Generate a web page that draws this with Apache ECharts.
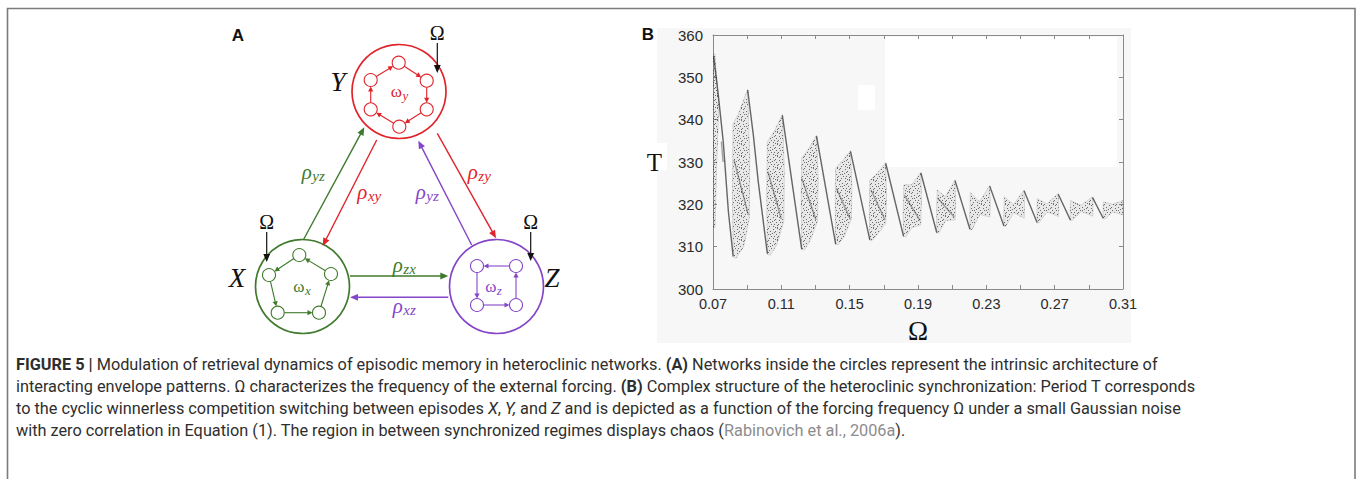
<!DOCTYPE html>
<html><head><meta charset="utf-8">
<script src="https://cdn.jsdelivr.net/npm/echarts@6/dist/echarts.min.js"></script>
<style>html,body{margin:0;padding:0;background:#fff}#c{width:1360px;height:479px}</style>
</head><body><div id="c"></div>
<script>
// ---------------- Panel B data ----------------
const xTickLabels = [0.07, 0.11, 0.15, 0.19, 0.23, 0.27, 0.31];
const xTickMarks = [0.07, 0.09, 0.11, 0.13, 0.15, 0.17, 0.19, 0.21, 0.23, 0.25, 0.27, 0.29, 0.31];
const yTickLabels = [300, 310, 320, 330, 340, 350, 360];

// top of each synchronization tongue (start of the steep descending branch)
const peaks = [[0.0704,355.0],[0.0903,347.0],[0.1106,341.0],[0.1306,336.1],[0.1505,332.5],[0.1711,329.7],
  [0.1917,327.4],[0.2117,325.6],[0.2320,324.3],[0.2521,323.2],[0.2721,322.4],[0.2922,321.6]];
// bottom of each descending branch
const troughs = [[0.0818,307.7],[0.1018,308.4],[0.1219,309.5],[0.1418,310.6],[0.1618,311.6],[0.1815,312.5],
  [0.2010,313.3],[0.2204,314.1],[0.2403,314.9],[0.2597,315.7],[0.2792,316.3],[0.2984,316.7]];
// intermediate points of the (slightly curved) first two branches
const branchBends = [[[0.0731,345.8],[0.0760,334.8],[0.0790,318.3]], [[0.0936,336.4],[0.0965,325.3]]];
// outlines of the scattered (chaotic) point clouds
const clouds = [
  [[0.0699,314.5],[0.0699,355.5],[0.0711,355.5],[0.0735,343.5],[0.0722,330],[0.0712,314.5]],
  [[0.0818,307.5],[0.0814,322],[0.0817,339.0],[0.0850,341.5],[0.0903,347.2],[0.0915,331],[0.0913,317],[0.0880,310],[0.0835,307.3]],
  [[0.1018,308.2],[0.1014,322],[0.1018,334.8],[0.1055,337],[0.1106,341.2],[0.1118,328],[0.1115,316],[0.1075,310.5],[0.1035,308]],
  [[0.1219,309.3],[0.1216,320],[0.1219,331.0],[0.1258,333],[0.1306,336.3],[0.1316,326],[0.1312,316],[0.1270,311.5],[0.1235,309.2]],
  [[0.1418,310.5],[0.1415,319],[0.1418,328.5],[0.1458,330.3],[0.1505,332.7],[0.1513,324],[0.1510,316.5],[0.1470,312.5],[0.1432,310.4]],
  [[0.1618,311.5],[0.1615,318],[0.1618,325.7],[0.1660,327.3],[0.1711,329.9],[0.1716,322],[0.1712,315.5],[0.1668,313.2],[0.1630,311.4]],
  [[0.1815,312.4],[0.1813,318],[0.1817,324.6],[0.1862,324.6],[0.1917,327.6],[0.1920,321],[0.1916,315.1],[0.1865,314.5],[0.1828,312.3]],
  [[0.2010,313.2],[0.2009,318],[0.2012,323.4],[0.2060,321.8],[0.2117,325.8],[0.2120,320.5],[0.2117,316.3],[0.2062,316.2],[0.2022,313.2]],
  [[0.2204,314.0],[0.2203,318],[0.2206,322.8],[0.2260,320.6],[0.2320,324.5],[0.2323,320],[0.2321,317.0],[0.2262,317.6],[0.2215,314.0]],
  [[0.2403,314.8],[0.2402,318],[0.2405,321.8],[0.2460,320.0],[0.2521,323.4],[0.2524,319.5],[0.2522,316.7],[0.2460,318.0],[0.2414,314.8]],
  [[0.2597,315.6],[0.2596,318.5],[0.2598,321.4],[0.2655,320.1],[0.2721,322.6],[0.2724,319.5],[0.2722,317.1],[0.2655,318.2],[0.2608,315.6]],
  [[0.2792,316.2],[0.2791,318.5],[0.2793,320.9],[0.2855,319.8],[0.2922,321.8],[0.2925,319.5],[0.2923,317.2],[0.2855,318.3],[0.2803,316.2]],
  [[0.2984,316.6],[0.2983,318.5],[0.2985,320.6],[0.3040,320.0],[0.3100,320.9],[0.3100,317.5],[0.3040,318.2],[0.2995,316.6]]
];
// denser streaks inside the clouds
const innerStreaks = [
  [[0.0749,334.8],[0.0759,330.0]],
  [[0.0823,330.5],[0.0907,317.5]],
  [[0.1022,327.7],[0.1100,316.5]],
  [[0.1220,326.1],[0.1303,316.3]],
  [[0.1422,323.8],[0.1504,316.4]],
  [[0.1625,323.4],[0.1707,316.3]],
  [[0.1820,322.2],[0.1912,316.2]],
  [[0.2015,321.5],[0.2112,317.0]]
];

// ---------------- Panel A data (diagram, in panel units) ----------------
const networks = ['X', 'Y', 'Z'];
const netCenters = [[302.5,286.5],[399,91.5],[496.5,286.5]];
const netRadius = 47;
const netNodes = [
  [[299.3,255],[331,274],[319,312.7],[277.7,312.7],[269,275]],
  [[398.7,62.7],[426.7,80.7],[426.7,109.3],[399.3,126.7],[370.7,109.3],[370.7,80]],
  [[477,266],[516,266],[516,305],[477,305]]
];
const netEdges = [
  [[0,4],[4,3],[3,2],[2,1],[1,0]],
  [[5,0],[0,1],[1,2],[2,3],[3,4],[4,5]],
  [[1,0],[0,3],[3,2],[2,1]]
];
// couplings: [source network, x0, y0, x1, y1]
const couplings = [
  [0, 303.3,240, 364.3,127.3],
  [1, 376.7,140, 322.7,246],
  [2, 471.7,245, 418.3,140.7],
  [1, 437.3,133.3, 496,238.3],
  [0, 350,276, 448.3,276],
  [2, 448.3,297.3, 350,297.3]
];
// coupling labels: [source network, subscript, x, y]
const couplingLabels = [[0,'yz',313,172],[1,'xy',369,192],[2,'yz',427,192],[1,'zy',479,172],[0,'zx',404,265],[2,'xz',404,306]];
const netLabels = [['X',237,278],['Y',338,82],['Z',552,278]];
const freqLabels = [['x',301.7,286],['y',399.3,91],['z',493.3,286]];
// external forcing Ω: [x, label y, arrow start y, arrow end y]
const forcing = [[266.7,222,232,262],[437.3,33,43,73],[530.7,222,232,261]];

// ---------------- caption ----------------
const captionLines = [
  '{b|FIGURE 5 |} Modulation of retrieval dynamics of episodic memory in heteroclinic networks. {b|(A)} Networks inside the circles represent the intrinsic architecture of',
  'interacting envelope patterns. Ω characterizes the frequency of the external forcing. {b|(B)} Complex structure of the heteroclinic synchronization: Period T corresponds',
  'to the cyclic winnerless competition switching between episodes {i|X}, {i|Y,} and {i|Z} and is depicted as a function of the forcing frequency Ω under a small Gaussian noise',
  'with zero correlation in Equation (1). The region in between synchronized regimes displays chaos ({g|Rabinovich et al., 2006a}).'
];

// ---------------- styles ----------------
const netColors = ['#3f7a2c', '#e1242b', '#8545c8'];
const serif = '"Liberation Serif", "DejaVu Serif", serif';
const sans = '"Liberation Sans", Arial, sans-serif';
const capFont = 'Roboto, "Liberation Sans", sans-serif';
const capSize = 16.3;
const mctx = document.createElement('canvas').getContext('2d');
function tw(font, s) { mctx.font = font; return mctx.measureText(s).width; }

// stipple texture for the point clouds (fixed hand-placed dot tile)
const stipple = document.createElement('canvas');
stipple.width = 12; stipple.height = 12;
(function () {
  const g = stipple.getContext('2d');
  g.fillStyle = 'rgba(35,35,35,0.62)';
  [[0,0],[5,1],[9,0],[2,3],[7,3],[11,4],[4,5],[0,6],[8,6],[3,8],[6,8],[10,8],[1,10],[5,10],[9,11],[7,11],[11,1],[2,6],[6,4],[9,9]]
    .forEach(p => g.fillRect(p[0], p[1], 1, 1));
})();
const stipplePattern = {image: stipple, repeat: 'repeat', imageWidth: 12, imageHeight: 12};

function arrow(p0, p1, color, lw, hl, hw) {
  const dx = p1[0]-p0[0], dy = p1[1]-p0[1], L = Math.hypot(dx, dy), ux = dx/L, uy = dy/L;
  const bx = p1[0]-ux*hl, by = p1[1]-uy*hl;
  return [
    {type:'line', shape:{x1:p0[0], y1:p0[1], x2:bx+ux, y2:by+uy}, style:{stroke:color, lineWidth:lw}},
    {type:'polygon', shape:{points:[[p1[0],p1[1]],[bx-uy*hw, by+ux*hw],[bx+uy*hw, by-ux*hw]]}, style:{fill:color}}
  ];
}
function subText(x, y, main, sub, mainFont, subFont, color, dy, center) {
  const w1 = tw(mainFont, main), w2 = tw(subFont, sub);
  const x0 = center ? x - (w1 + w2)/2 : x;
  return [
    {type:'text', x:x0, y:y, style:{text:main, font:mainFont, fill:color, align:'left', verticalAlign:'middle'}},
    {type:'text', x:x0 + w1 + 0.5, y:y + dy, style:{text:sub, font:subFont, fill:color, align:'left', verticalAlign:'middle'}}
  ];
}

const chart = echarts.init(document.getElementById('c'), null, {renderer:'svg'});

const axisGray = '#8a8a8a';
const option = {
  animation: false,
  grid: [
    {left:713, top:35, width:410, height:254},
    {left:200, top:20, width:380, height:320}
  ],
  xAxis: [
    {type:'value', gridIndex:0, min:0.07, max:0.31, position:'bottom',
      axisLine:{show:true, onZero:false, lineStyle:{color:axisGray, width:1}},
      axisTick:{show:true, inside:true, length:4, customValues:xTickMarks, lineStyle:{color:axisGray}},
      axisLabel:{customValues:xTickLabels, formatter:v => Number(v).toFixed(2), fontSize:14.5, fontFamily:sans, color:'#2a2a2a', margin:7},
      splitLine:{show:false},
      name:'Ω', nameLocation:'middle', nameGap:28, nameTextStyle:{fontFamily:serif, fontSize:27, color:'#111'}},
    {type:'value', gridIndex:0, min:0.07, max:0.31, position:'top',
      axisLine:{show:true, onZero:false, lineStyle:{color:axisGray, width:1}},
      axisTick:{show:true, inside:true, length:4, customValues:xTickMarks, lineStyle:{color:axisGray}},
      axisLabel:{show:false}, splitLine:{show:false}},
    {type:'value', gridIndex:1, min:200, max:580, show:false}
  ],
  yAxis: [
    {type:'value', gridIndex:0, min:300, max:360, interval:10, position:'left',
      axisLine:{show:true, onZero:false, lineStyle:{color:axisGray, width:1}},
      axisTick:{show:true, inside:true, length:4, lineStyle:{color:axisGray}},
      axisLabel:{customValues:yTickLabels, fontSize:15, fontFamily:sans, color:'#2a2a2a', margin:10},
      splitLine:{show:false},
      name:'T', nameLocation:'middle', nameRotate:0, nameGap:51, nameTextStyle:{fontFamily:serif, fontSize:25, color:'#111'}},
    {type:'value', gridIndex:0, min:300, max:360, interval:10, position:'right',
      axisLine:{show:true, onZero:false, lineStyle:{color:axisGray, width:1}},
      axisTick:{show:true, inside:true, length:4, lineStyle:{color:axisGray}},
      axisLabel:{show:false}, splitLine:{show:false}},
    {type:'value', gridIndex:1, min:20, max:340, inverse:true, show:false}
  ],
  graphic: [
    {type:'rect', z:-10, shape:{x:7.5, y:8.5, width:1347.5, height:520}, style:{fill:'#fff', stroke:'#7b7b7b', lineWidth:1.6}},
    {type:'rect', z:-9, shape:{x:657, y:28, width:474, height:315}, style:{fill:'#f7f7f7'}},
    {type:'rect', z:-8, shape:{x:885, y:37, width:232, height:130}, style:{fill:'#ffffff'}},
    {type:'rect', z:-8, shape:{x:858, y:85, width:17, height:25}, style:{fill:'#ffffff'}},
    {type:'rect', z:-8, shape:{x:645, y:143, width:22, height:27}, style:{fill:'#ffffff'}},
    {type:'text', z:10, x:238, y:35, style:{text:'A', font:'bold 17px ' + sans, fill:'#111', align:'center', verticalAlign:'middle'}},
    {type:'text', z:10, x:648, y:34, style:{text:'B', font:'bold 17px ' + sans, fill:'#111', align:'center', verticalAlign:'middle'}}
  ].concat(captionLines.map((t, i) => ({
    type:'text', z:10, x:16, y:364 + i*22.3,
    style:{text:t, font:capSize + 'px ' + capFont, fill:'#2e2e2e', align:'left', verticalAlign:'middle',
      rich:{
        b:{font:'bold ' + capSize + 'px ' + capFont, fill:'#2e2e2e'},
        i:{font:'italic ' + capSize + 'px ' + capFont, fill:'#2e2e2e'},
        g:{font:capSize + 'px ' + capFont, fill:'#8c8c8c'}
      }}
  }))),
  series: [
    // ---- panel B ----
    {type:'custom', name:'clouds', xAxisIndex:0, yAxisIndex:0, clip:true, z:2,
      data: clouds.map(c => [c[0][0], c[0][1]]),
      renderItem: (params, api) => {
        const pts = clouds[params.dataIndex].map(p => api.coord(p));
        return {type:'group', children:[
          {type:'polygon', shape:{points:pts}, style:{fill:'rgba(70,70,70,0.08)', stroke:'rgba(60,60,60,0.18)', lineWidth:0.8}},
          {type:'polygon', shape:{points:pts}, style:{fill:stipplePattern}}
        ]};
      }},
    {type:'custom', name:'streaks', xAxisIndex:0, yAxisIndex:0, clip:true, z:3,
      data: innerStreaks.map(s => [s[0][0], s[0][1]]),
      renderItem: (params, api) => ({
        type:'polyline', shape:{points: innerStreaks[params.dataIndex].map(p => api.coord(p))},
        style:{stroke:'rgba(40,40,40,0.42)', lineWidth:1.4, fill:null}
      })},
    {type:'custom', name:'branches', xAxisIndex:0, yAxisIndex:0, clip:true, z:4,
      data: peaks.map(p => [p[0], p[1]]),
      renderItem: (params, api) => {
        const i = params.dataIndex;
        const pts = [peaks[i]].concat(branchBends[i] || [], [troughs[i]]).map(p => api.coord(p));
        return {type:'polyline', shape:{points:pts}, style:{stroke:'rgba(45,45,45,0.72)', lineWidth:1.4, fill:null}};
      }},
    // ---- panel A ----
    {type:'custom', name:'networks', xAxisIndex:2, yAxisIndex:2, z:5,
      data: netCenters.map(c => [c[0], c[1]]),
      renderItem: (params, api) => {
        const c = api.coord(netCenters[params.dataIndex]);
        const r = api.size([netRadius, 0])[0];
        return {type:'circle', shape:{cx:c[0], cy:c[1], r:r}, style:{fill:'none', stroke:netColors[params.dataIndex], lineWidth:1.7}};
      }},
    {type:'custom', name:'units', xAxisIndex:2, yAxisIndex:2, z:6,
      data: networks.map((n, k) => [netCenters[k][0], netCenters[k][1]]),
      renderItem: (params, api) => {
        const k = params.dataIndex, col = netColors[k];
        const pts = netNodes[k].map(p => api.coord(p));
        const r = api.size([6.5, 0])[0];
        let children = [];
        netEdges[k].forEach(e => {
          const a = pts[e[0]], b = pts[e[1]];
          const dx = b[0]-a[0], dy = b[1]-a[1], L = Math.hypot(dx, dy), ux = dx/L, uy = dy/L;
          children = children.concat(arrow([a[0]+ux*r, a[1]+uy*r], [b[0]-ux*r, b[1]-uy*r], col, 1.1, 5, 2.6));
        });
        pts.forEach(p => children.push({type:'circle', shape:{cx:p[0], cy:p[1], r:r}, style:{fill:'#fff', stroke:col, lineWidth:1.1}}));
        return {type:'group', children};
      }},
    {type:'custom', name:'couplings', xAxisIndex:2, yAxisIndex:2, z:6,
      data: couplings.map(c => [c[1], c[2]]),
      renderItem: (params, api) => {
        const c = couplings[params.dataIndex];
        return {type:'group', children: arrow(api.coord([c[1], c[2]]), api.coord([c[3], c[4]]), netColors[c[0]], 1.4, 8, 3.4)};
      }},
    {type:'custom', name:'forcing', xAxisIndex:2, yAxisIndex:2, z:6,
      data: forcing.map(f => [f[0], f[1]]),
      renderItem: (params, api) => {
        const f = forcing[params.dataIndex];
        const t = api.coord([f[0], f[1]]);
        return {type:'group', children: arrow(api.coord([f[0], f[2]]), api.coord([f[0], f[3]]), '#111', 1.2, 8, 3.4).concat([
          {type:'text', x:t[0], y:t[1], style:{text:'Ω', font:'20px ' + serif, fill:'#111', align:'center', verticalAlign:'middle'}}
        ])};
      }},
    {type:'custom', name:'labels', xAxisIndex:2, yAxisIndex:2, z:7,
      data: [[0, 0]],
      renderItem: (params, api) => {
        let ch = [];
        netLabels.forEach(l => {
          const p = api.coord([l[1], l[2]]);
          ch.push({type:'text', x:p[0], y:p[1], style:{text:l[0], font:'italic 27px ' + serif, fill:'#111', align:'center', verticalAlign:'middle'}});
        });
        freqLabels.forEach((l, k) => {
          const p = api.coord([l[1], l[2]]);
          ch = ch.concat(subText(p[0], p[1], 'ω', l[0], '17px ' + serif, 'italic 13px ' + serif, netColors[k], 4, true));
        });
        couplingLabels.forEach(l => {
          const p = api.coord([l[2], l[3]]);
          ch = ch.concat(subText(p[0], p[1], 'ρ', l[1], 'italic 21px ' + serif, 'italic 15px ' + serif, netColors[l[0]], 4, true));
        });
        return {type:'group', children: ch};
      }}
  ]
};
chart.setOption(option);
</script>
</body></html>
